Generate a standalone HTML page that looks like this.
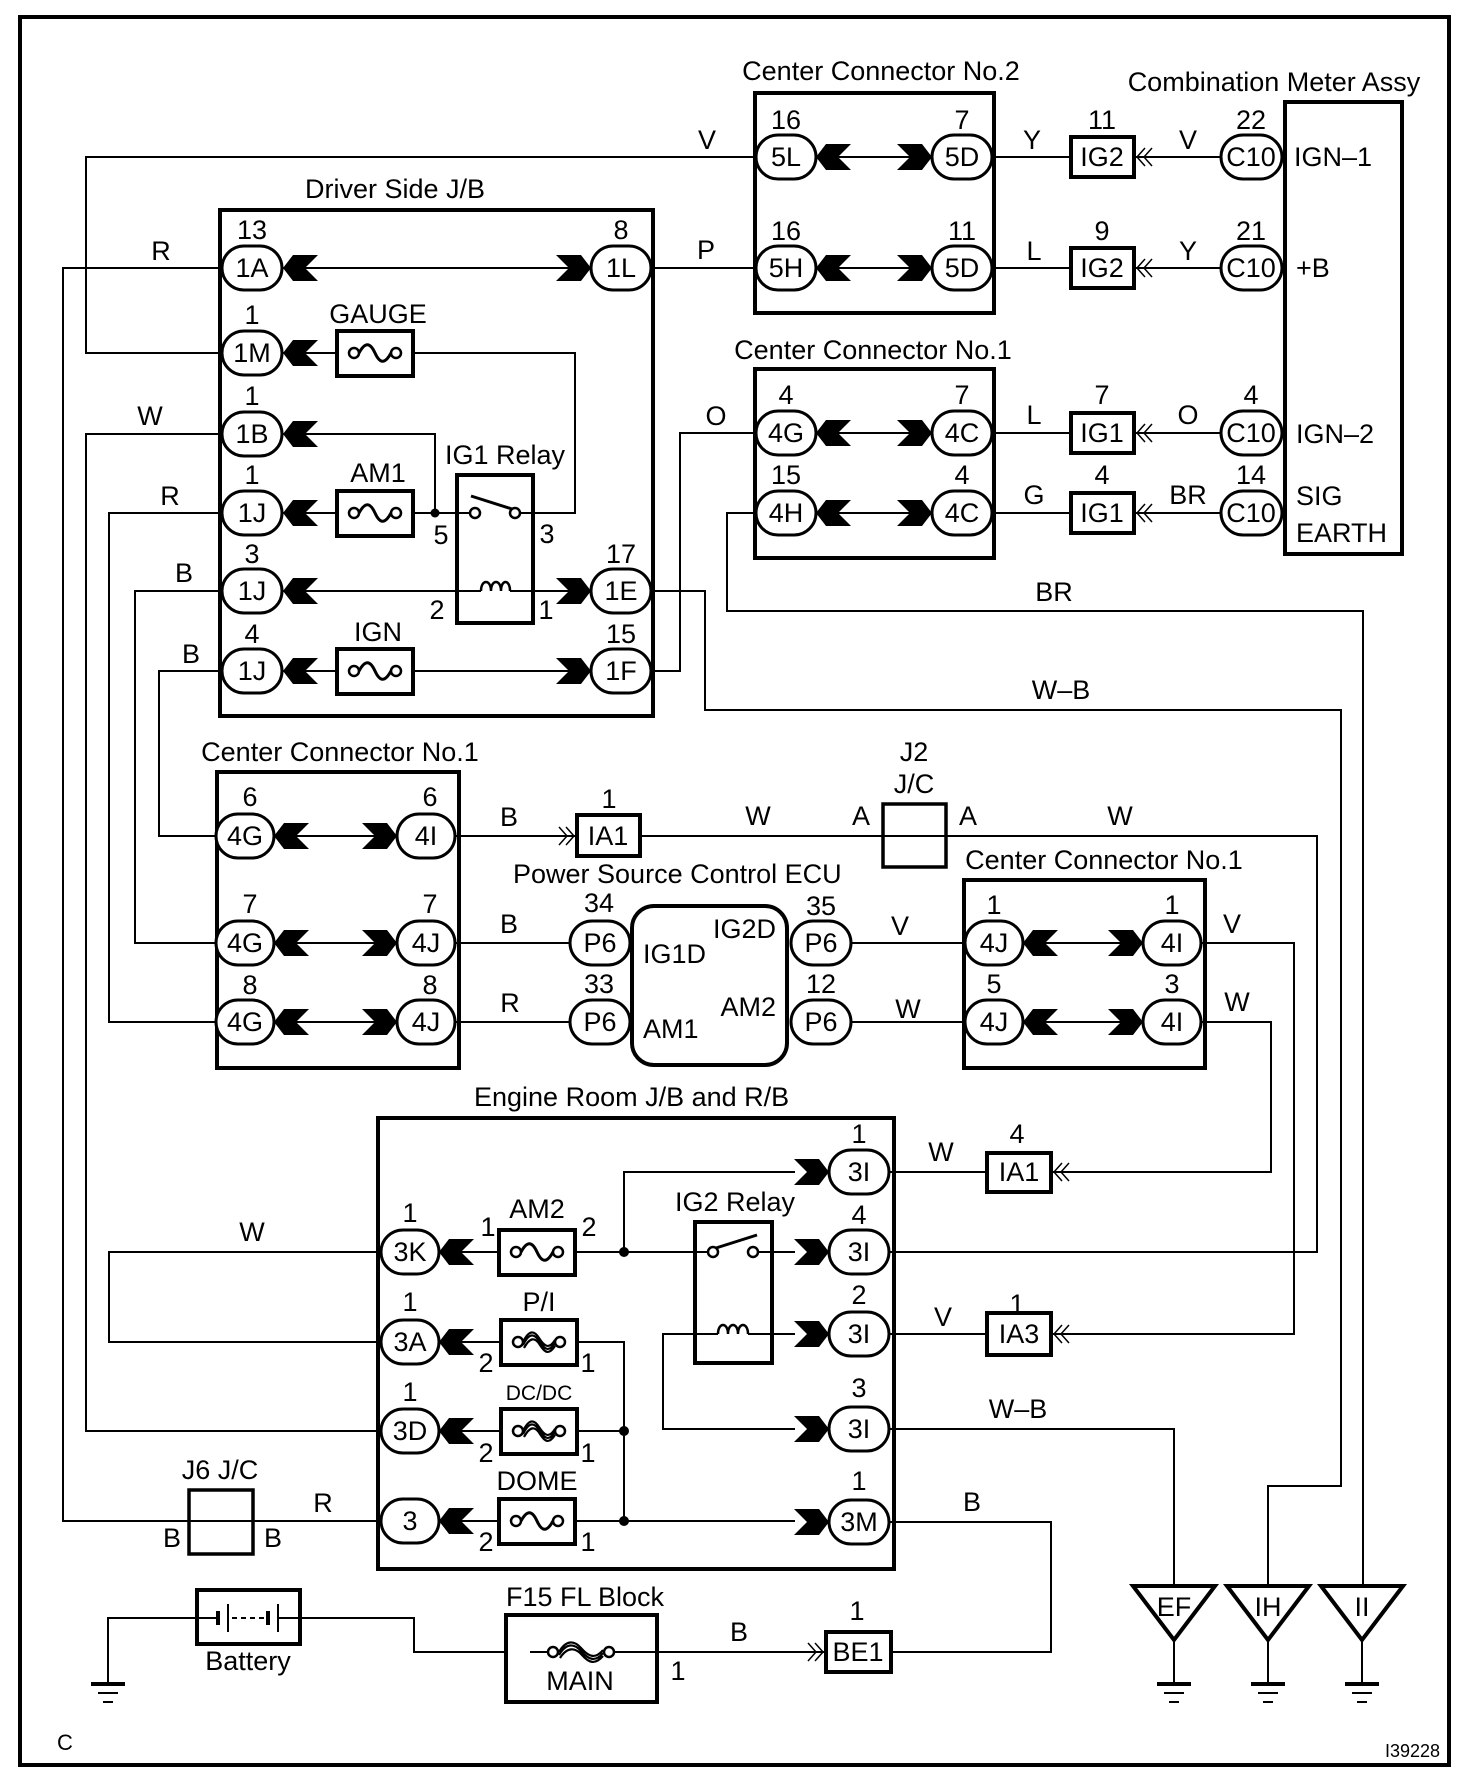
<!DOCTYPE html>
<html><head><meta charset="utf-8"><style>
html,body{margin:0;padding:0;background:#fff}
svg{display:block}
text{font-family:"Liberation Sans",Arial,sans-serif;font-size:27px;fill:#000}
.w{stroke:#000;stroke-width:2;fill:none}
.b{stroke:#000;stroke-width:4;fill:none}
.p{stroke:#000;stroke-width:3;fill:#fff}
.f{stroke:#000;stroke-width:2.5;fill:#fff}
</style></head><body>
<svg width="1472" height="1782" viewBox="0 0 1472 1782" xmlns="http://www.w3.org/2000/svg">
<defs>
<polygon id="cl" points="0,0 10,-13 35,-13 22,0 35,13 10,13" fill="#000"/>
<polygon id="cr" points="0,0 -10,-13 -35,-13 -22,0 -35,13 -10,13" fill="#000"/>
<g id="fz"><rect x="-38" y="-22" width="76" height="45" class="b" style="stroke-width:4;fill:#fff"/><circle cx="-21" cy="0" r="5" class="f"/><circle cx="21" cy="0" r="5" class="f"/><path d="M-16,0 C-10,-11 -5,-11 0,0 S10,11 16,0" class="w" style="stroke-width:3"/></g>
<g id="fb"><rect x="-38" y="-22" width="76" height="45" class="b" style="stroke-width:4;fill:#fff"/><circle cx="-21" cy="0" r="5" class="f"/><circle cx="21" cy="0" r="5" class="f"/><path d="M-16,0 C-10,-12 -5,-12 0,-4 S10,8 16,-2 M-16,3 C-10,-9 -5,-9 0,-1 S10,11 16,1 M-15,6 C-9,-5 -4,-5 1,3 S10,13 16,4" class="w" style="stroke-width:2.2"/></g>
<g id="dl"><polyline points="10,-9 2,0 10,9" class="w" style="stroke-width:1.5"/><polyline points="17,-9 9,0 17,9" class="w" style="stroke-width:1.5"/></g>
<g id="dr"><polyline points="-10,-9 -2,0 -10,9" class="w" style="stroke-width:1.5"/><polyline points="-17,-9 -9,0 -17,9" class="w" style="stroke-width:1.5"/></g>
<g id="gnd"><line x1="0" y1="0" x2="0" y2="44" class="w"/><line x1="-17" y1="44" x2="17" y2="44" stroke="#000" stroke-width="4"/><line x1="-10" y1="53" x2="10" y2="53" class="w"/><line x1="-5" y1="62" x2="5" y2="62" class="w"/></g>
</defs>

<rect x="20" y="17" width="1429" height="1748" class="b"/>

<g class="w">
<polyline points="757,157 86,157 86,353 222,353"/>
<line x1="650" y1="268" x2="757" y2="268"/>
<polyline points="222,268 63,268 63,1521 381,1521"/>
<polyline points="222,434 86,434 86,1431 381,1431"/>
<polyline points="222,513 109,513 109,1022 216,1022"/>
<polyline points="222,591 135,591 135,943 216,943"/>
<polyline points="222,671 159,671 159,836 216,836"/>
<line x1="283" y1="268" x2="592" y2="268"/>
<polyline points="283,353 413,353 575,353 575,513 520,513"/>
<polyline points="283,434 435,434 435,513"/>
<line x1="283" y1="513" x2="470" y2="513"/>
<line x1="283" y1="591" x2="481" y2="591"/>
<line x1="510" y1="591" x2="592" y2="591"/>
<line x1="283" y1="671" x2="592" y2="671"/>
<polyline points="650,671 680,671 680,433 757,433"/>
<polyline points="650,591 705,591 705,710 1341,710 1341,1486 1268,1486 1268,1586"/>
<polyline points="757,513 727,513 727,611 1363,611 1363,1586"/>
<line x1="815" y1="157" x2="933" y2="157"/><line x1="815" y1="268" x2="933" y2="268"/>
<line x1="815" y1="433" x2="933" y2="433"/><line x1="815" y1="513" x2="933" y2="513"/>
<line x1="991" y1="157" x2="1071" y2="157"/><line x1="1134" y1="157" x2="1221" y2="157"/>
<line x1="991" y1="268" x2="1071" y2="268"/><line x1="1134" y1="268" x2="1221" y2="268"/>
<line x1="991" y1="433" x2="1071" y2="433"/><line x1="1134" y1="433" x2="1221" y2="433"/>
<line x1="991" y1="513" x2="1071" y2="513"/><line x1="1134" y1="513" x2="1221" y2="513"/>
<line x1="274" y1="836" x2="397" y2="836"/><line x1="274" y1="943" x2="397" y2="943"/><line x1="274" y1="1022" x2="397" y2="1022"/>
<line x1="455" y1="836" x2="577" y2="836"/>
<polyline points="640,836 1317,836 1317,1252 888,1252"/>
<line x1="455" y1="943" x2="570" y2="943"/><line x1="455" y1="1022" x2="570" y2="1022"/>
<line x1="850" y1="943" x2="965" y2="943"/><line x1="850" y1="1022" x2="965" y2="1022"/>
<line x1="1023" y1="943" x2="1143" y2="943"/><line x1="1023" y1="1022" x2="1143" y2="1022"/>
<polyline points="1201,943 1294,943 1294,1334 1051,1334"/>
<polyline points="1201,1022 1271,1022 1271,1172 1051,1172"/>
<line x1="888" y1="1172" x2="987" y2="1172"/>
<line x1="888" y1="1334" x2="987" y2="1334"/>
<polyline points="795,1172 624,1172 624,1252"/>
<line x1="439" y1="1252" x2="713" y2="1252"/>
<line x1="753" y1="1252" x2="795" y2="1252"/>
<polyline points="381,1252 109,1252 109,1342 381,1342"/>
<line x1="439" y1="1342" x2="500" y2="1342"/>
<polyline points="578,1342 624,1342 624,1522"/>
<line x1="439" y1="1431" x2="624" y2="1431"/>
<line x1="439" y1="1521" x2="795" y2="1521"/>
<polyline points="795,1429 663,1429 663,1334 718,1334"/>
<line x1="748" y1="1334" x2="795" y2="1334"/>
<polyline points="888,1429 1174,1429 1174,1586"/>
<polyline points="888,1522 1051,1522 1051,1652 891,1652"/>
<line x1="657" y1="1652" x2="826" y2="1652"/>
<polyline points="197,1618 108,1618 108,1640"/>
<polyline points="300,1618 414,1618 414,1652 506,1652"/>
</g>

<rect x="220" y="210" width="433" height="506" class="b"/>
<rect x="755" y="93" width="239" height="220" class="b"/>
<rect x="755" y="369" width="239" height="189" class="b"/>
<rect x="1285" y="102" width="117" height="452" class="b"/>
<rect x="217" y="772" width="242" height="296" class="b"/>
<rect x="964" y="880" width="241" height="188" class="b"/>
<rect x="632" y="906" width="155" height="159" rx="22" class="b" style="fill:#fff"/>
<rect x="378" y="1118" width="516" height="451" class="b"/>
<rect x="883" y="804" width="63" height="63" class="b" style="stroke-width:3.5;fill:none"/>
<rect x="189" y="1490" width="64" height="64" class="b" style="stroke-width:3.5;fill:none"/>
<rect x="457" y="475" width="76" height="148" class="b"/>
<rect x="695" y="1222" width="77" height="141" class="b"/>

<g class="w">
<line x1="533" y1="513" x2="575" y2="513"/>
<line x1="480" y1="513" x2="457" y2="513"/>
<line x1="471" y1="496" x2="512" y2="509" style="stroke-width:3"/>
<path d="M481,591 c0,-12 10,-12 10,0 c0,-12 10,-12 10,0 c0,-12 9,-12 9,0" style="stroke-width:2.5"/>
<line x1="695" y1="1252" x2="708" y2="1252"/>
<line x1="758" y1="1252" x2="772" y2="1252"/>
<line x1="716" y1="1248" x2="757" y2="1235" style="stroke-width:3"/>
<path d="M718,1334 c0,-12 10,-12 10,0 c0,-12 10,-12 10,0 c0,-12 10,-12 10,0" style="stroke-width:2.5"/>
</g>
<circle cx="475" cy="513" r="5" class="f"/><circle cx="515" cy="513" r="5" class="f"/>
<circle cx="713" cy="1252" r="5" class="f"/><circle cx="753" cy="1252" r="5" class="f"/>
<circle cx="435" cy="513" r="4.5" fill="#000"/>
<circle cx="624" cy="1252" r="5" fill="#000"/>
<circle cx="624" cy="1431" r="5" fill="#000"/>
<circle cx="624" cy="1521" r="5" fill="#000"/>

<use href="#fz" x="375" y="353"/>
<use href="#fz" x="375" y="513"/>
<use href="#fz" x="375" y="671"/>
<use href="#fz" x="537" y="1252"/>
<use href="#fb" x="539" y="1342"/>
<use href="#fb" x="539" y="1431"/>
<use href="#fz" x="537" y="1521"/>

<rect x="506" y="1615" width="151" height="87" class="b"/>
<g transform="translate(581,1652)"><circle cx="-28" cy="0" r="5" class="f"/><circle cx="28" cy="0" r="5" class="f"/><line x1="-51" y1="0" x2="-33" y2="0" class="w"/><line x1="33" y1="0" x2="75" y2="0" class="w"/><path d="M-22,0 C-15,-12 -7,-12 0,-4 S14,8 22,-2 M-22,3 C-15,-9 -7,-9 0,-1 S14,11 22,1 M-21,6 C-14,-5 -6,-5 1,3 S14,13 22,4" class="w" style="stroke-width:2.2"/></g>

<rect x="197" y="1590" width="103" height="54" class="b"/>
<g stroke="#000">
<line x1="197" y1="1618" x2="218" y2="1618" stroke-width="2"/>
<line x1="218" y1="1611" x2="218" y2="1625" stroke-width="4"/>
<line x1="228" y1="1604" x2="228" y2="1632" stroke-width="2"/>
<line x1="232" y1="1618" x2="266" y2="1618" stroke-width="2" stroke-dasharray="5,4"/>
<line x1="268" y1="1611" x2="268" y2="1625" stroke-width="4"/>
<line x1="278" y1="1604" x2="278" y2="1632" stroke-width="2"/>
<line x1="278" y1="1618" x2="300" y2="1618" stroke-width="2"/>
</g>

<g class="b" style="stroke-width:4;fill:#fff">
<rect x="1071" y="137" width="63" height="40"/>
<rect x="1071" y="248" width="63" height="40"/>
<rect x="1071" y="413" width="63" height="40"/>
<rect x="1071" y="493" width="63" height="40"/>
<rect x="577" y="815" width="63" height="41"/>
<rect x="987" y="1153" width="64" height="39"/>
<rect x="987" y="1313" width="64" height="42"/>
<rect x="826" y="1632" width="65" height="40"/>
</g>
<use href="#dl" x="1135" y="157"/><use href="#dl" x="1135" y="268"/><use href="#dl" x="1135" y="433"/><use href="#dl" x="1135" y="513"/>
<use href="#dl" x="1052" y="1172"/><use href="#dl" x="1052" y="1334"/>
<use href="#dr" x="576" y="836"/><use href="#dr" x="825" y="1652"/>

<g class="p">
<rect x="222" y="246" width="60" height="44" rx="22"/><rect x="591" y="246" width="60" height="44" rx="22"/>
<rect x="222" y="331" width="60" height="44" rx="22"/>
<rect x="222" y="412" width="60" height="44" rx="22"/>
<rect x="222" y="491" width="60" height="44" rx="22"/>
<rect x="222" y="569" width="60" height="44" rx="22"/><rect x="591" y="569" width="60" height="44" rx="22"/>
<rect x="222" y="649" width="60" height="44" rx="22"/><rect x="591" y="649" width="60" height="44" rx="22"/>
<rect x="756" y="135" width="60" height="44" rx="22"/><rect x="932" y="135" width="60" height="44" rx="22"/>
<rect x="756" y="246" width="60" height="44" rx="22"/><rect x="932" y="246" width="60" height="44" rx="22"/>
<rect x="756" y="411" width="60" height="44" rx="22"/><rect x="932" y="411" width="60" height="44" rx="22"/>
<rect x="756" y="491" width="60" height="44" rx="22"/><rect x="932" y="491" width="60" height="44" rx="22"/>
<rect x="1221" y="135" width="61" height="44" rx="22"/><rect x="1221" y="246" width="61" height="44" rx="22"/>
<rect x="1221" y="411" width="61" height="44" rx="22"/><rect x="1221" y="491" width="61" height="44" rx="22"/>
<rect x="216" y="814" width="58" height="44" rx="22"/><rect x="397" y="814" width="58" height="44" rx="22"/>
<rect x="216" y="921" width="58" height="44" rx="22"/><rect x="397" y="921" width="58" height="44" rx="22"/>
<rect x="216" y="1000" width="58" height="44" rx="22"/><rect x="397" y="1000" width="58" height="44" rx="22"/>
<rect x="570" y="921" width="60" height="44" rx="22"/><rect x="570" y="1000" width="60" height="44" rx="22"/>
<rect x="791" y="921" width="60" height="44" rx="22"/><rect x="791" y="1000" width="60" height="44" rx="22"/>
<rect x="965" y="921" width="58" height="44" rx="22"/><rect x="1143" y="921" width="58" height="44" rx="22"/>
<rect x="965" y="1000" width="58" height="44" rx="22"/><rect x="1143" y="1000" width="58" height="44" rx="22"/>
<rect x="829" y="1150" width="60" height="44" rx="22"/><rect x="829" y="1230" width="60" height="44" rx="22"/>
<rect x="829" y="1312" width="60" height="44" rx="22"/><rect x="829" y="1407" width="60" height="44" rx="22"/>
<rect x="829" y="1500" width="60" height="44" rx="22"/>
<rect x="381" y="1230" width="58" height="44" rx="22"/><rect x="381" y="1320" width="58" height="44" rx="22"/>
<rect x="381" y="1409" width="58" height="44" rx="22"/><rect x="381" y="1499" width="58" height="44" rx="22"/>
</g>

<use href="#cl" x="283" y="268"/><use href="#cr" x="591" y="268"/>
<use href="#cl" x="283" y="353"/><use href="#cl" x="283" y="434"/><use href="#cl" x="283" y="513"/>
<use href="#cl" x="283" y="591"/><use href="#cr" x="591" y="591"/>
<use href="#cl" x="283" y="671"/><use href="#cr" x="591" y="671"/>
<use href="#cl" x="816" y="157"/><use href="#cr" x="932" y="157"/>
<use href="#cl" x="816" y="268"/><use href="#cr" x="932" y="268"/>
<use href="#cl" x="816" y="433"/><use href="#cr" x="932" y="433"/>
<use href="#cl" x="816" y="513"/><use href="#cr" x="932" y="513"/>
<use href="#cl" x="274" y="836"/><use href="#cr" x="397" y="836"/>
<use href="#cl" x="274" y="943"/><use href="#cr" x="397" y="943"/>
<use href="#cl" x="274" y="1022"/><use href="#cr" x="397" y="1022"/>
<use href="#cl" x="1023" y="943"/><use href="#cr" x="1143" y="943"/>
<use href="#cl" x="1023" y="1022"/><use href="#cr" x="1143" y="1022"/>
<use href="#cr" x="829" y="1172"/><use href="#cr" x="829" y="1252"/><use href="#cr" x="829" y="1334"/>
<use href="#cr" x="829" y="1429"/><use href="#cr" x="829" y="1522"/>
<use href="#cl" x="439" y="1252"/><use href="#cl" x="439" y="1342"/><use href="#cl" x="439" y="1431"/><use href="#cl" x="439" y="1521"/>

<g class="b" style="stroke-width:4;fill:#fff">
<polygon points="1133,1586 1215,1586 1174,1640"/>
<polygon points="1227,1586 1309,1586 1268,1640"/>
<polygon points="1321,1586 1403,1586 1362,1640"/>
</g>
<use href="#gnd" x="1174" y="1640"/><use href="#gnd" x="1268" y="1640"/><use href="#gnd" x="1362" y="1640"/>
<use href="#gnd" x="108" y="1640"/>

<g text-anchor="middle">
<text x="395" y="198">Driver Side J/B</text>
<text x="881" y="80">Center Connector No.2</text>
<text x="1274" y="91">Combination Meter Assy</text>
<text x="873" y="359">Center Connector No.1</text>
<text x="340" y="761">Center Connector No.1</text>
<text x="1104" y="869">Center Connector No.1</text>
<text x="505" y="464">IG1 Relay</text>
<text x="735" y="1211">IG2 Relay</text>
<text x="914" y="761">J2</text><text x="914" y="793">J/C</text>
<text x="220" y="1479">J6 J/C</text>
<text x="585" y="1606">F15 FL Block</text>
<text x="248" y="1670">Battery</text>
<text x="580" y="1690">MAIN</text>
<text x="378" y="323">GAUGE</text>
<text x="378" y="482">AM1</text>
<text x="378" y="641">IGN</text>
<text x="537" y="1218">AM2</text>
<text x="539" y="1311">P/I</text>
<text x="539" y="1400" style="font-size:21px">DC/DC</text>
<text x="537" y="1490">DOME</text>
<text x="252" y="277">1A</text><text x="621" y="277">1L</text>
<text x="252" y="362">1M</text><text x="252" y="443">1B</text>
<text x="252" y="522">1J</text><text x="252" y="600">1J</text><text x="621" y="600">1E</text>
<text x="252" y="680">1J</text><text x="621" y="680">1F</text>
<text x="786" y="166">5L</text><text x="962" y="166">5D</text>
<text x="786" y="277">5H</text><text x="962" y="277">5D</text>
<text x="786" y="442">4G</text><text x="962" y="442">4C</text>
<text x="786" y="522">4H</text><text x="962" y="522">4C</text>
<text x="1251" y="166">C10</text><text x="1251" y="277">C10</text><text x="1251" y="442">C10</text><text x="1251" y="522">C10</text>
<text x="1102" y="166">IG2</text><text x="1102" y="277">IG2</text><text x="1102" y="442">IG1</text><text x="1102" y="522">IG1</text>
<text x="245" y="845">4G</text><text x="426" y="845">4I</text>
<text x="245" y="952">4G</text><text x="426" y="952">4J</text>
<text x="245" y="1031">4G</text><text x="426" y="1031">4J</text>
<text x="608" y="845">IA1</text>
<text x="600" y="952">P6</text><text x="600" y="1031">P6</text>
<text x="821" y="952">P6</text><text x="821" y="1031">P6</text>
<text x="994" y="952">4J</text><text x="1172" y="952">4I</text>
<text x="994" y="1031">4J</text><text x="1172" y="1031">4I</text>
<text x="859" y="1181">3I</text><text x="859" y="1261">3I</text><text x="859" y="1343">3I</text>
<text x="859" y="1438">3I</text><text x="859" y="1531">3M</text>
<text x="1019" y="1181">IA1</text><text x="1019" y="1343">IA3</text><text x="858" y="1661">BE1</text>
<text x="410" y="1261">3K</text><text x="410" y="1351">3A</text><text x="410" y="1440">3D</text><text x="410" y="1530">3</text>
<text x="1174" y="1616">EF</text><text x="1268" y="1616">IH</text><text x="1362" y="1616">II</text>
<text x="252" y="239">13</text><text x="621" y="239">8</text>
<text x="252" y="324">1</text><text x="252" y="405">1</text><text x="252" y="484">1</text>
<text x="252" y="563">3</text><text x="621" y="563">17</text>
<text x="252" y="643">4</text><text x="621" y="643">15</text>
<text x="786" y="129">16</text><text x="962" y="129">7</text>
<text x="786" y="240">16</text><text x="962" y="240">11</text>
<text x="786" y="404">4</text><text x="962" y="404">7</text>
<text x="786" y="484">15</text><text x="962" y="484">4</text>
<text x="1102" y="129">11</text><text x="1102" y="240">9</text><text x="1102" y="404">7</text><text x="1102" y="484">4</text>
<text x="1251" y="129">22</text><text x="1251" y="240">21</text><text x="1251" y="404">4</text><text x="1251" y="484">14</text>
<text x="250" y="806">6</text><text x="430" y="806">6</text>
<text x="250" y="913">7</text><text x="430" y="913">7</text>
<text x="250" y="994">8</text><text x="430" y="994">8</text>
<text x="609" y="808">1</text>
<text x="599" y="912">34</text><text x="599" y="993">33</text>
<text x="821" y="915">35</text><text x="821" y="993">12</text>
<text x="994" y="914">1</text><text x="1172" y="914">1</text>
<text x="994" y="993">5</text><text x="1172" y="993">3</text>
<text x="859" y="1143">1</text><text x="859" y="1224">4</text><text x="859" y="1304">2</text>
<text x="859" y="1397">3</text><text x="859" y="1490">1</text>
<text x="1017" y="1143">4</text><text x="1017" y="1313">1</text><text x="857" y="1620">1</text>
<text x="410" y="1222">1</text><text x="410" y="1311">1</text><text x="410" y="1401">1</text>
<text x="488" y="1236">1</text><text x="589" y="1236">2</text>
<text x="486" y="1372">2</text><text x="588" y="1372">1</text>
<text x="486" y="1462">2</text><text x="588" y="1462">1</text>
<text x="486" y="1551">2</text><text x="588" y="1551">1</text>
<text x="441" y="544">5</text><text x="547" y="543">3</text>
<text x="437" y="619">2</text><text x="546" y="619">1</text>
<text x="678" y="1680">1</text>
<text x="861" y="825">A</text><text x="968" y="825">A</text>
<text x="172" y="1547">B</text><text x="273" y="1547">B</text>
<text x="161" y="260">R</text><text x="706" y="259">P</text><text x="707" y="149">V</text>
<text x="150" y="425">W</text><text x="170" y="505">R</text><text x="184" y="582">B</text><text x="191" y="663">B</text>
<text x="716" y="425">O</text>
<text x="1032" y="149">Y</text><text x="1188" y="149">V</text>
<text x="1034" y="260">L</text><text x="1188" y="260">Y</text>
<text x="1034" y="424">L</text><text x="1188" y="424">O</text>
<text x="1034" y="504">G</text><text x="1188" y="504">BR</text>
<text x="1054" y="601">BR</text><text x="1061" y="699">W–B</text>
<text x="509" y="826">B</text><text x="758" y="825">W</text><text x="1120" y="825">W</text>
<text x="509" y="933">B</text><text x="510" y="1012">R</text>
<text x="900" y="935">V</text><text x="908" y="1018">W</text>
<text x="1232" y="933">V</text><text x="1237" y="1011">W</text>
<text x="941" y="1161">W</text><text x="943" y="1326">V</text>
<text x="252" y="1241">W</text>
<text x="1018" y="1418">W–B</text><text x="972" y="1511">B</text>
<text x="323" y="1512">R</text><text x="739" y="1641">B</text>
</g>
<text x="1294" y="166">IGN–1</text>
<text x="1296" y="277">+B</text>
<text x="1296" y="443">IGN–2</text>
<text x="1296" y="505">SIG</text>
<text x="1296" y="542">EARTH</text>
<text x="513" y="883">Power Source Control ECU</text>
<text x="474" y="1106">Engine Room J/B and R/B</text>
<text x="643" y="963">IG1D</text>
<text x="643" y="1038">AM1</text>
<text x="776" y="938" text-anchor="end">IG2D</text>
<text x="776" y="1016" text-anchor="end">AM2</text>
<text x="57" y="1750" style="font-size:22px">C</text>
<text x="1440" y="1757" text-anchor="end" style="font-size:18px">I39228</text>
</svg>
</body></html>
